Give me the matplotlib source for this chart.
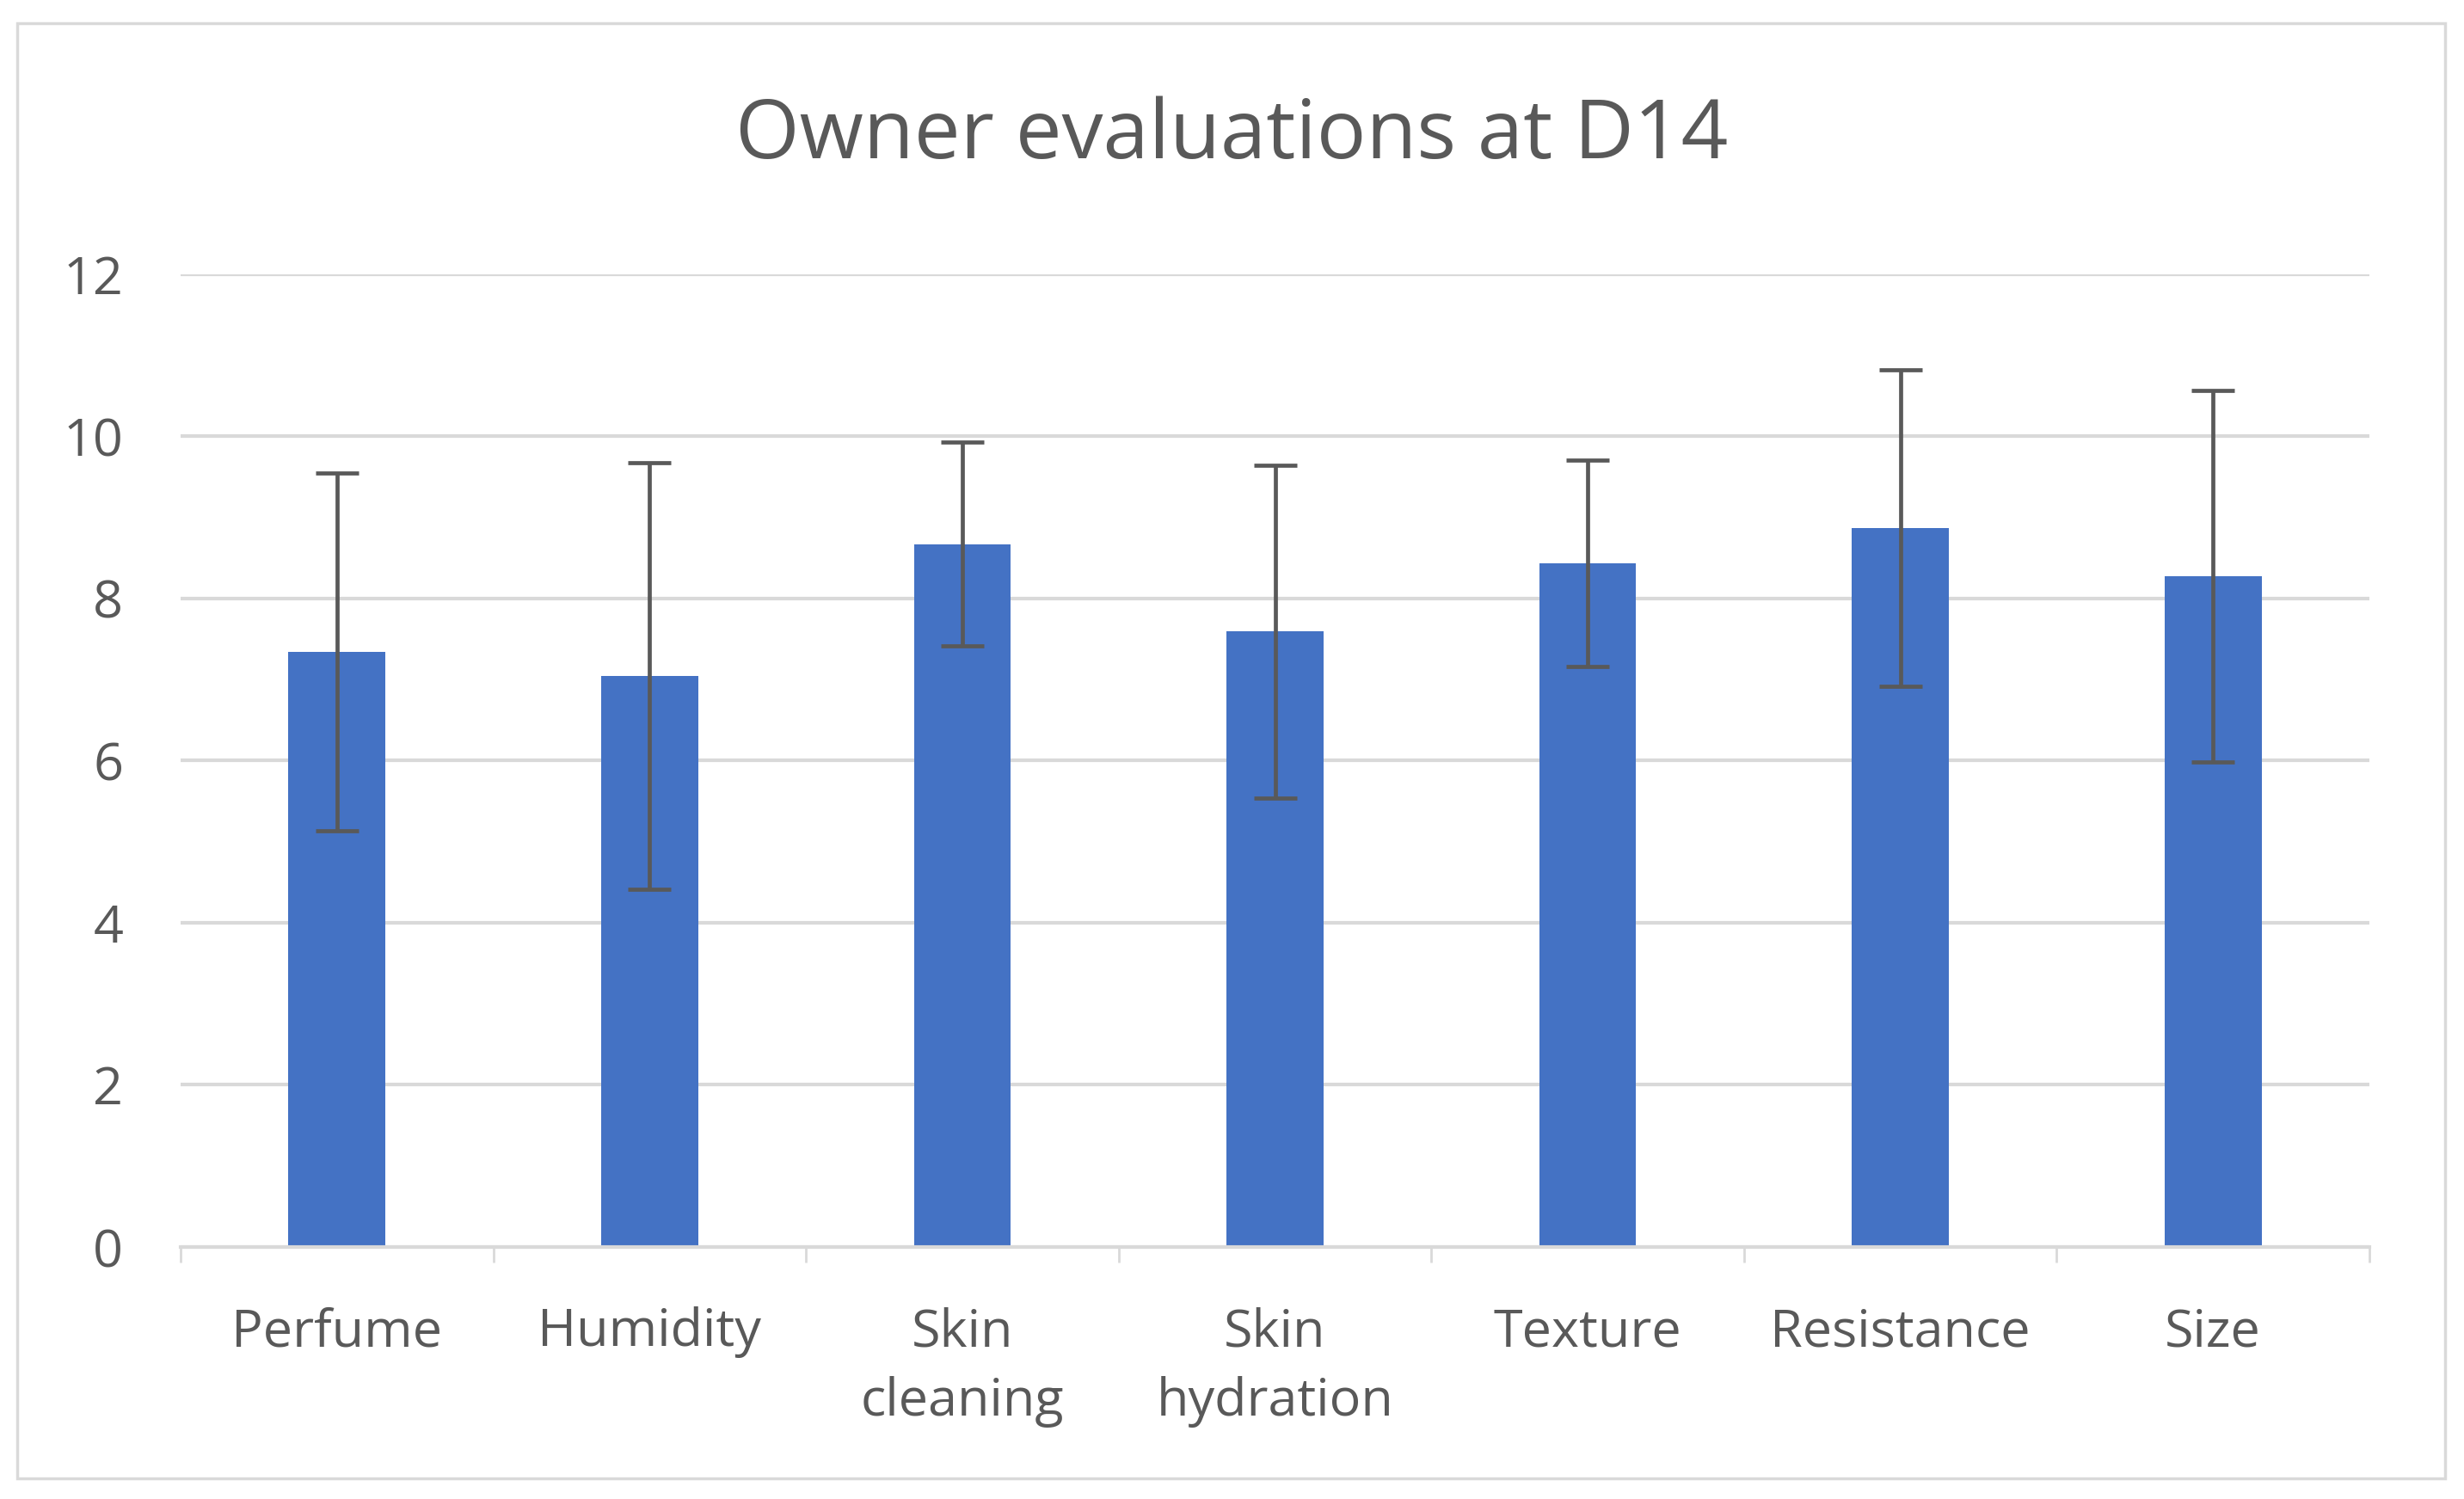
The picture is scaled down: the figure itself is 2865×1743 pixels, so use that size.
import matplotlib
matplotlib.use("Agg")
import matplotlib.pyplot as plt
from matplotlib.patches import Rectangle
import numpy as np

# values
categories = ["Perfume", "Humidity", "Skin\ncleaning", "Skin\nhydration",
              "Texture", "Resistance", "Size"]
means = [7.34, 7.04, 8.67, 7.59, 8.43, 8.87, 8.27]
errors = [2.21, 2.63, 1.26, 2.05, 1.27, 1.95, 2.29]
yticks = [0, 2, 4, 6, 8, 10, 12]

plt.rcParams["font.family"] = ["Open Sans", "DejaVu Sans"]
TXT = "#595959"
GRID = "#D9D9D9"

W, H, DPI = 2865, 1743, 100
fig = plt.figure(figsize=(W / DPI, H / DPI), dpi=DPI)
ax = fig.add_axes([210 / W, 293 / H, 2545 / W, 1131.4 / H])

x = np.arange(len(categories))
ax.bar(x, means, width=0.31, color="#4472C4", zorder=2)
ax.errorbar(x, means, yerr=errors, fmt="none", ecolor=TXT, elinewidth=3.4,
            capsize=18, capthick=3.4, zorder=3)

ax.set_xlim(-0.5, len(categories) - 0.5)
ax.set_ylim(0, 12)
ax.set_yticks(yticks)
ax.set_yticklabels([str(v) for v in yticks])
ax.yaxis.grid(True, color=GRID, lw=3.0, zorder=0)
ax.set_axisbelow(True)
ax.tick_params(axis="y", length=0, pad=48, labelsize=44, labelcolor=TXT)

# category boundaries as ticks, labels centred on the bars
ax.set_xticks(np.arange(-0.5, len(categories), 1.0))
ax.set_xticklabels([])
ax.set_xticks(x, minor=True)
ax.set_xticklabels(categories, minor=True, linespacing=1.45)
ax.tick_params(axis="x", which="major", length=13, width=2, color=GRID)
ax.tick_params(axis="x", which="minor", length=0, pad=50, labelsize=44,
               labelcolor=TXT)

for s in ("left", "right", "top"):
    ax.spines[s].set_visible(False)
ax.spines["bottom"].set_color(GRID)
ax.spines["bottom"].set_linewidth(3)
ax.spines["bottom"].set_zorder(4)

fig.text(0.5, 1 - 159 / H, "Owner evaluations at D14", ha="center",
         va="center", fontsize=69, color=TXT)

fig.patches.append(Rectangle((20 / W, 24 / H), 2823 / W, 1692 / H,
                             transform=fig.transFigure, fill=False,
                             edgecolor=GRID, lw=2.5))

fig.savefig("out.png", dpi=DPI)
